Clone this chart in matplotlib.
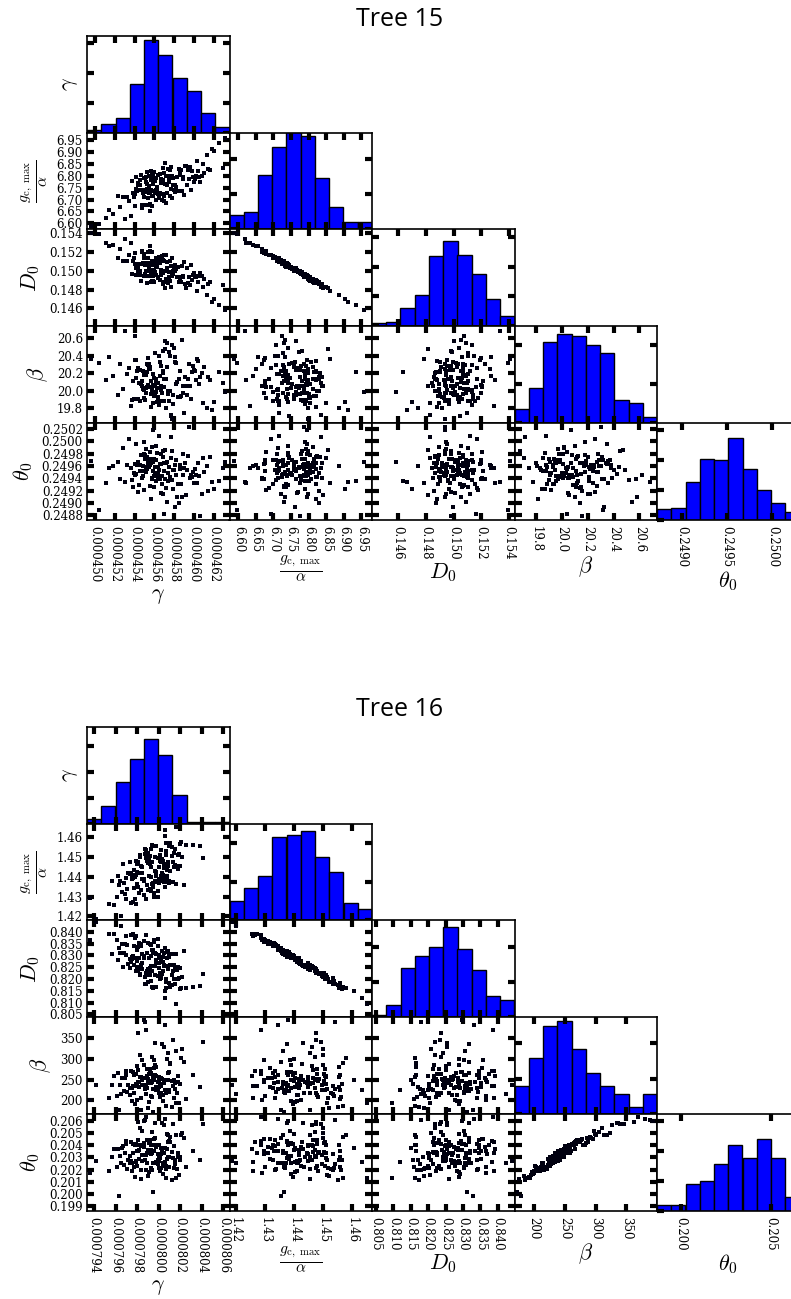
import numpy as np
import matplotlib
matplotlib.use("Agg")
import matplotlib.pyplot as plt
from matplotlib.ticker import FixedLocator, FormatStrFormatter

plt.rcParams['font.family'] = 'DejaVu Serif'
plt.rcParams['mathtext.fontset'] = 'cm'

LABELS = [r'$\gamma$', r'$\frac{g_{\mathrm{c,\ max}}}{\alpha}$', r'$D_0$', r'$\beta$', r'$\theta_0$']

# ---------------- Tree 15 samples (gamma in 1e-6, D0 in 1e-3, theta0 in 1e-4) ----------------
gamma15 = [
    456.1, 458.4, 455.3, 460.2, 454.6, 456.9, 452.8, 457.5, 455.8, 459.1,
    455.6, 461.3, 456.4, 454.2, 457.9, 455.1, 458.8, 456.7, 453.9, 460.0,
    455.9, 457.2, 451.4, 456.3, 459.6, 455.4, 457.7, 454.8, 462.5, 456.0,
    458.1, 455.2, 456.8, 453.2, 457.1, 460.5, 455.7, 454.4, 456.5, 459.4,
    457.4, 449.6, 455.0, 458.6, 456.2, 461.8, 455.5, 457.0, 454.1, 458.9,
    456.6, 453.7, 459.9, 455.9, 457.6, 452.3, 456.0, 460.9, 455.3, 457.3,
    454.9, 458.2, 456.4, 451.1, 457.8, 455.6, 459.2, 456.1, 463.1, 455.0,
    457.0, 454.5, 460.4, 455.8, 456.9, 453.6, 458.5, 455.4, 457.4, 461.0,
    455.7, 459.7, 454.3, 456.7, 458.0, 455.2, 452.5, 457.2, 460.6, 456.3,
    455.5, 458.7, 454.7, 456.5, 462.0, 455.9, 457.6, 453.4, 459.0, 456.2,
    456.8, 454.0, 458.3, 455.1, 460.1, 457.1, 455.6, 451.8, 456.4, 459.5,
    455.4, 457.9, 454.6, 461.6, 456.0, 458.1, 455.8, 453.0, 457.5, 460.8,
    456.6, 455.0, 459.3, 454.2, 457.3, 455.7, 462.9, 456.9, 454.8, 458.6,
    455.2, 460.3, 456.2, 453.8, 457.7, 455.5, 458.9, 456.5, 450.4, 457.0,
    456.1, 459.8, 455.3, 457.8, 454.4, 461.4, 456.7, 455.9, 458.2, 454.9]
gc15 = [
    6.778, 6.737, 6.744, 6.798, 6.783, 6.722, 6.712, 6.772, 6.673, 6.839,
    6.730, 6.887, 6.723, 6.796, 6.759, 6.741, 6.734, 6.788, 6.711, 6.774,
    6.765, 6.687, 6.655, 6.741, 6.838, 6.706, 6.835, 6.676, 6.935, 6.816,
    6.762, 6.773, 6.700, 6.709, 6.855, 6.793, 6.741, 6.769, 6.715, 6.824,
    6.830, 6.588, 6.679, 6.821, 6.740, 6.912, 6.758, 6.693, 6.724, 6.796,
    6.727, 6.777, 6.793, 6.795, 6.714, 6.713, 6.736, 6.850, 6.814, 6.729,
    6.738, 6.754, 6.803, 6.623, 6.797, 6.650, 6.841, 6.728, 6.958, 6.789,
    6.713, 6.741, 6.821, 6.713, 6.832, 6.632, 6.829, 6.676, 6.800, 6.811,
    6.781, 6.739, 6.737, 6.768, 6.740, 6.793, 6.667, 6.797, 6.775, 6.751,
    6.728, 6.822, 6.804, 6.705, 6.902, 6.715, 6.824, 6.692, 6.717, 6.790,
    6.780, 6.672, 6.796, 6.791, 6.786, 6.765, 6.680, 6.641, 6.803, 6.786,
    6.676, 6.789, 6.763, 6.822, 6.776, 6.732, 6.813, 6.618, 6.792, 6.798,
    6.807, 6.709, 6.763, 6.746, 6.759, 6.821, 6.834, 6.782, 6.666, 6.801,
    6.733, 6.860, 6.700, 6.729, 6.745, 6.798, 6.786, 6.715, 6.597, 6.813,
    6.728, 6.821, 6.764, 6.707, 6.759, 6.828, 6.778, 6.805, 6.754, 6.728]
d015 = [
    149.84, 150.45, 150.65, 149.30, 149.53, 151.18, 151.06, 149.92, 151.97, 148.59,
    150.71, 147.47, 150.96, 149.54, 150.01, 150.66, 150.52, 149.52, 151.38, 149.78,
    150.08, 151.66, 152.67, 150.41, 148.51, 151.34, 148.27, 152.15, 146.35, 148.85,
    149.95, 149.95, 151.52, 151.07, 148.18, 149.41, 150.66, 149.84, 151.34, 148.67,
    148.69, 154.06, 151.79, 148.99, 150.53, 146.67, 150.33, 151.63, 150.74, 149.39,
    150.87, 149.61, 149.51, 149.41, 151.06, 151.38, 150.62, 148.29, 148.74, 150.93,
    150.78, 150.17, 149.19, 152.98, 149.42, 152.63, 148.19, 151.05, 145.84, 149.45,
    151.08, 150.76, 148.84, 151.03, 148.64, 152.93, 148.76, 152.00, 149.05, 149.11,
    149.87, 150.61, 150.55, 150.11, 150.38, 149.46, 152.30, 149.17, 149.81, 150.44,
    150.80, 148.86, 148.96, 151.51, 146.99, 151.04, 148.92, 151.70, 150.94, 149.57,
    149.80, 151.94, 149.39, 149.65, 149.46, 150.03, 152.07, 152.73, 149.29, 149.36,
    152.00, 149.65, 149.97, 148.81, 149.98, 150.61, 148.96, 153.39, 149.38, 149.45,
    149.00, 151.32, 150.27, 150.30, 150.26, 148.79, 148.45, 149.80, 152.03, 149.33,
    150.84, 147.87, 151.32, 151.03, 150.47, 149.40, 149.46, 151.19, 153.91, 148.76,
    150.90, 148.99, 149.95, 151.32, 150.31, 148.58, 149.84, 148.94, 150.27, 150.70]
beta15 = [
    20.05, 19.93, 20.31, 20.12, 19.88, 20.22, 20.02, 20.44, 19.97, 20.16,
    20.27, 19.81, 20.09, 20.35, 19.95, 20.18, 20.58, 20.01, 19.91, 20.24,
    19.99, 20.14, 20.38, 19.87, 20.06, 20.29, 19.72, 20.11, 20.21, 19.94,
    20.33, 20.03, 19.89, 20.19, 20.47, 20.08, 19.96, 20.26, 19.84, 20.13,
    20.00, 20.36, 19.92, 20.23, 20.10, 19.78, 20.30, 20.04, 20.62, 19.98,
    20.17, 19.90, 20.28, 20.07, 20.39, 19.95, 20.15, 19.86, 20.21, 20.54,
    20.02, 20.32, 19.93, 20.12, 19.68, 20.25, 20.06, 20.43, 19.99, 20.18,
    19.88, 20.09, 20.34, 20.01, 20.20, 19.83, 20.14, 20.37, 19.96, 20.27,
    20.11, 19.91, 20.23, 20.05, 20.49, 19.97, 20.31, 19.80, 20.16, 20.03,
    20.29, 19.94, 20.08, 20.40, 19.87, 20.19, 20.00, 20.26, 19.75, 20.13,
    19.98, 20.35, 20.10, 19.90, 20.22, 20.57, 20.04, 20.17, 19.92, 20.30,
    20.07, 19.85, 20.24, 20.12, 19.96, 20.38, 20.02, 20.68, 19.89, 20.20,
    20.33, 20.01, 19.95, 20.15, 20.27, 19.82, 20.09, 20.45, 20.05, 19.93,
    20.18, 20.36, 19.99, 20.11, 19.71, 20.25, 20.06, 19.88, 20.32, 20.14,
    19.97, 20.21, 20.04, 20.52, 19.91, 20.16, 20.28, 19.86, 20.08, 20.23]
theta15 = [
    2495.8, 2493.1, 2497.4, 2494.6, 2496.2, 2491.5, 2498.9, 2495.9, 2493.9, 2496.5,
    2492.8, 2496.0, 2494.2, 2499.6, 2495.4, 2497.8, 2490.9, 2496.3, 2494.9, 2493.3,
    2496.6, 2492.4, 2495.6, 2498.1, 2494.0, 2496.9, 2500.7, 2495.1, 2493.6, 2497.1,
    2489.4, 2495.7, 2493.0, 2496.1, 2498.6, 2494.4, 2496.4, 2491.8, 2495.3, 2497.6,
    2494.8, 2496.8, 2492.1, 2495.5, 2499.2, 2493.4, 2496.0, 2488.2, 2494.5, 2497.9,
    2496.3, 2493.7, 2495.0, 2501.8, 2494.1, 2496.7, 2492.6, 2497.3, 2495.8, 2490.2,
    2494.3, 2497.0, 2495.9, 2493.2, 2498.4, 2496.2, 2491.2, 2494.7, 2496.6, 2499.9,
    2495.2, 2492.9, 2496.4, 2494.0, 2497.5, 2495.6, 2489.9, 2496.9, 2493.5, 2495.0,
    2497.2, 2494.6, 2496.1, 2491.6, 2495.4, 2498.8, 2493.8, 2496.5, 2487.8, 2494.9,
    2496.0, 2493.0, 2497.7, 2495.3, 2492.3, 2496.8, 2494.2, 2500.4, 2495.7, 2493.6,
    2494.4, 2496.3, 2491.0, 2497.1, 2495.5, 2493.9, 2498.2, 2496.0, 2494.8, 2502.3,
    2496.5, 2492.2, 2495.1, 2497.4, 2494.3, 2496.1, 2499.0, 2493.4, 2495.9, 2491.4,
    2493.8, 2497.9, 2495.3, 2494.7, 2496.7, 2490.6, 2495.6, 2498.5, 2494.1, 2496.2,
    2495.0, 2493.3, 2496.9, 2492.5, 2497.3, 2495.8, 2494.5, 2500.9, 2488.9, 2496.4,
    2497.0, 2494.2, 2495.5, 2493.7, 2496.6, 2492.0, 2498.0, 2495.2, 2494.6, 2496.0]

# histogram bar heights (10 bins over each axis range)
hist15_gamma = [2, 6, 10, 33, 62, 52, 37, 28, 13, 4]
hist15_gc = [8, 10, 31, 47, 60, 53, 29, 13, 4, 4]
hist15_d0 = [2, 3, 12, 21, 47, 57, 48, 35, 18, 7]
hist15_beta = [7, 18, 42, 46, 45, 40, 36, 12, 10, 3]
hist15_theta = [7, 8, 25, 41, 40, 55, 34, 20, 11, 5]

# ---------------- Tree 16 samples (gamma in 1e-6, gc in 1e-3, D0 in 1e-3, theta0 in 1e-3) ----------------
gamma16 = [
    799.2, 801.0, 797.6, 800.4, 798.3, 799.8, 802.1, 796.5, 800.9, 798.9,
    799.5, 797.0, 800.7, 798.0, 801.6, 799.0, 795.4, 800.2, 798.6, 801.2,
    797.9, 800.0, 799.3, 802.4, 798.4, 796.9, 800.6, 799.7, 794.2, 801.4,
    800.3, 798.1, 799.9, 797.3, 801.8, 799.4, 798.7, 800.8, 796.2, 799.1,
    798.8, 801.1, 799.6, 797.7, 800.5, 803.2, 798.2, 799.0, 801.5, 797.4,
    800.1, 796.7, 799.8, 798.5, 802.0, 799.3, 797.8, 800.6, 798.9, 801.3,
    799.6, 797.2, 800.4, 795.9, 801.0, 798.6, 799.9, 802.5, 798.0, 800.2,
    797.5, 800.9, 799.1, 798.3, 801.7, 796.4, 799.5, 800.0, 797.9, 801.1,
    799.7, 798.8, 800.5, 793.6, 799.2, 801.5, 798.1, 800.8, 797.1, 799.4,
    800.1, 798.4, 801.9, 797.6, 799.8, 796.1, 800.3, 799.0, 802.2, 798.7,
    799.3, 800.7, 797.8, 801.2, 798.2, 799.6, 795.7, 800.4, 798.9, 804.1,
    800.0, 797.0, 799.4, 801.4, 798.5, 800.6, 796.8, 799.1, 801.8, 797.5,
    798.6, 800.2, 799.7, 802.0, 797.3, 800.9, 798.4, 799.5, 796.3, 800.5,
    799.9, 797.7, 801.3, 798.0, 800.0, 799.2, 803.8, 798.8, 800.7, 796.6,
    798.1, 801.6, 799.8, 797.4, 800.3, 798.5, 799.3, 801.0, 797.9, 800.8]
gc16 = [
    1446.7, 1436.8, 1439.2, 1439.1, 1451.2, 1440.4, 1457.8, 1420.2, 1447.5, 1447.9,
    1434.6, 1439.6, 1456.9, 1436.4, 1436.4, 1447.2, 1426.1, 1453.5, 1439.0, 1450.3,
    1448.1, 1437.0, 1445.0, 1435.7, 1445.5, 1431.3, 1463.5, 1443.1, 1418.7, 1451.9,
    1441.8, 1446.6, 1432.7, 1441.4, 1451.0, 1436.3, 1454.3, 1438.2, 1440.3, 1440.4,
    1449.6, 1443.0, 1429.8, 1443.5, 1446.4, 1455.9, 1431.9, 1452.2, 1446.2, 1426.7,
    1448.2, 1446.7, 1437.4, 1438.8, 1456.6, 1433.0, 1439.8, 1460.6, 1435.9, 1447.6,
    1431.8, 1442.1, 1448.1, 1425.5, 1455.8, 1438.0, 1429.7, 1456.0, 1446.4, 1440.5,
    1439.0, 1437.5, 1448.4, 1450.2, 1445.7, 1437.9, 1436.6, 1445.0, 1426.1, 1457.0,
    1438.1, 1453.6, 1444.4, 1429.0, 1433.7, 1454.2, 1447.6, 1443.2, 1433.8, 1447.3,
    1451.2, 1433.5, 1451.3, 1427.2, 1455.4, 1430.0, 1448.8, 1433.2, 1450.1, 1451.3,
    1440.0, 1450.9, 1428.8, 1455.3, 1441.9, 1429.8, 1437.9, 1441.1, 1450.9, 1449.4,
    1445.0, 1428.6, 1456.3, 1444.9, 1444.8, 1434.6, 1437.0, 1450.4, 1444.0, 1441.0,
    1431.0, 1447.5, 1450.1, 1445.6, 1447.4, 1445.5, 1433.5, 1455.6, 1435.6, 1437.4,
    1449.7, 1434.5, 1437.6, 1442.4, 1439.0, 1450.7, 1455.6, 1428.6, 1452.9, 1432.4,
    1434.6, 1465.2, 1442.4, 1441.7, 1437.8, 1441.8, 1454.0, 1437.8, 1441.1, 1440.2]
d016 = [
    824.6, 830.4, 829.8, 829.2, 821.8, 828.0, 816.2, 842.3, 824.3, 823.2,
    832.4, 830.2, 816.3, 832.1, 830.6, 824.1, 838.9, 820.3, 828.9, 821.5,
    823.6, 830.3, 825.5, 831.7, 826.0, 834.7, 812.0, 825.5, 844.2, 820.2,
    827.1, 825.0, 834.1, 828.4, 819.9, 832.1, 818.1, 831.6, 828.0, 828.8,
    822.5, 825.9, 836.7, 826.0, 825.4, 816.6, 835.2, 818.8, 825.2, 838.8,
    822.4, 824.9, 830.7, 830.4, 815.8, 834.5, 828.8, 815.1, 831.2, 823.5,
    835.6, 826.5, 823.2, 839.2, 818.4, 829.7, 836.9, 816.0, 825.1, 828.6,
    829.2, 831.7, 822.6, 822.0, 823.8, 830.9, 831.2, 826.6, 838.4, 816.6,
    831.0, 818.1, 825.9, 836.7, 834.7, 817.8, 823.7, 825.4, 834.3, 823.6,
    820.2, 834.7, 820.5, 838.9, 816.6, 836.7, 822.2, 835.3, 820.7, 820.8,
    829.6, 820.0, 837.4, 817.3, 828.7, 835.8, 830.8, 827.0, 821.7, 822.1,
    824.8, 838.3, 816.8, 825.9, 824.4, 833.3, 830.9, 822.6, 825.2, 828.3,
    836.2, 822.6, 821.7, 824.5, 824.6, 824.2, 834.1, 816.3, 833.0, 830.9,
    821.3, 833.9, 830.5, 827.7, 828.7, 821.5, 817.2, 838.7, 818.7, 834.7,
    833.5, 809.5, 827.4, 827.3, 831.7, 826.9, 819.0, 829.4, 829.0, 828.8]
beta16 = [
    243, 221, 268, 198, 256, 232, 301, 215, 249, 276,
    228, 262, 187, 239, 318, 252, 207, 235, 284, 246,
    264, 219, 241, 293, 176, 254, 226, 337, 238, 205,
    251, 273, 230, 212, 258, 245, 389, 223, 267, 196,
    236, 288, 248, 217, 327, 260, 233, 183, 242, 271,
    209, 255, 224, 298, 240, 265, 191, 250, 231, 346,
    278, 237, 213, 259, 226, 394, 244, 203, 282, 253,
    229, 266, 247, 310, 218, 238, 172, 257, 234, 290,
    261, 216, 243, 200, 270, 227, 362, 248, 221, 305,
    239, 256, 195, 234, 279, 211, 252, 241, 323, 228,
    247, 225, 263, 185, 244, 296, 236, 214, 258, 340,
    232, 271, 208, 250, 237, 381, 222, 264, 245, 199,
    254, 219, 286, 240, 230, 313, 206, 257, 178, 242,
    226, 262, 235, 202, 249, 275, 233, 369, 217, 255,
    244, 193, 259, 231, 335, 248, 210, 268, 239, 299]
theta16 = [
    203.46, 202.19, 204.14, 201.64, 204.03, 202.62, 204.82, 202.58, 203.07, 204.40,
    202.53, 204.11, 201.32, 203.52, 204.81, 203.61, 201.86, 203.28, 204.15, 203.46,
    204.12, 202.12, 203.29, 204.56, 201.22, 203.37, 202.66, 205.81, 202.68, 202.10,
    203.33, 204.43, 202.75, 202.57, 203.39, 203.38, 206.04, 202.86, 203.71, 201.78,
    203.21, 204.25, 203.53, 202.25, 205.69, 203.55, 202.91, 201.49, 202.82, 204.28,
    201.87, 203.90, 202.54, 205.16, 202.80, 204.00, 201.38, 203.80, 202.54, 205.74,
    204.50, 202.75, 202.31, 203.67, 203.01, 205.99, 203.29, 202.19, 204.00, 203.74,
    202.57, 204.23, 203.35, 205.40, 202.03, 203.13, 200.15, 204.01, 202.64, 204.70,
    204.03, 202.01, 203.36, 201.70, 204.45, 202.45, 205.88, 203.73, 202.09, 205.05,
    202.92, 203.93, 201.60, 203.34, 203.98, 202.19, 203.41, 203.49, 204.96, 202.83,
    203.60, 202.33, 203.99, 201.18, 203.64, 204.47, 203.01, 202.54, 203.34, 205.70,
    202.67, 204.38, 201.99, 203.90, 202.70, 206.16, 202.37, 204.22, 203.03, 201.87,
    203.82, 202.12, 204.60, 203.05, 203.15, 204.81, 201.98, 204.01, 199.82, 203.37,
    202.46, 204.11, 202.93, 202.26, 203.12, 204.28, 202.76, 206.29, 202.05, 203.75,
    203.49, 201.29, 203.87, 202.74, 205.83, 203.18, 202.10, 204.34, 202.72, 204.93]

hist16_gamma = [4, 14, 32, 50, 66, 53, 22, 1, 1, 1]
hist16_gc = [10, 17, 23, 43, 44, 46, 33, 25, 9, 6]
hist16_d0 = [1, 7, 28, 35, 40, 51, 39, 27, 12, 10]
hist16_beta = [16, 32, 50, 53, 37, 23, 16, 11, 4, 11]
hist16_theta = [4, 4, 18, 20, 31, 44, 35, 48, 35, 9]

# tick values
ticks15_x = [[0.000450, 0.000452, 0.000454, 0.000456, 0.000458, 0.000460, 0.000462],
             [6.60, 6.65, 6.70, 6.75, 6.80, 6.85, 6.90, 6.95],
             [0.146, 0.148, 0.150, 0.152, 0.154],
             [19.8, 20.0, 20.2, 20.4, 20.6],
             [0.2490, 0.2495, 0.2500]]
ticks15_y = [None,
             [6.60, 6.65, 6.70, 6.75, 6.80, 6.85, 6.90, 6.95],
             [0.146, 0.148, 0.150, 0.152, 0.154],
             [19.8, 20.0, 20.2, 20.4, 20.6],
             [0.2488, 0.2490, 0.2492, 0.2494, 0.2496, 0.2498, 0.2500, 0.2502]]
ticks16_x = [[0.000794, 0.000796, 0.000798, 0.000800, 0.000802, 0.000804, 0.000806],
             [1.42, 1.43, 1.44, 1.45, 1.46],
             [0.805, 0.810, 0.815, 0.820, 0.825, 0.830, 0.835, 0.840],
             [200, 250, 300, 350],
             [0.200, 0.205]]
ticks16_y = [None,
             [1.42, 1.43, 1.44, 1.45, 1.46],
             [0.805, 0.810, 0.815, 0.820, 0.825, 0.830, 0.835, 0.840],
             [200, 250, 300, 350],
             [0.199, 0.200, 0.201, 0.202, 0.203, 0.204, 0.205, 0.206]]

fmt15_x = ['%.6f', '%.2f', '%.3f', '%.1f', '%.4f']
fmt15_y = [None, '%.2f', '%.3f', '%.1f', '%.4f']
fmt16_x = ['%.6f', '%.2f', '%.3f', '%.0f', '%.3f']
fmt16_y = [None, '%.2f', '%.3f', '%.0f', '%.3f']

# axis ranges (sample min / max)
lims15 = [(449.2e-6, 463.6e-6), (6.575, 6.980), (0.14412, 0.15440), (19.637, 20.735), (0.24873, 0.25030)]
lims16 = [(793.35e-6, 806.58e-6), (1.4179, 1.4669), (0.80390, 0.84480), (168.0, 399.8), (0.19866, 0.20657)]
htop15 = [65, 55, 65, 50, 65]
htop16 = [75, 50, 55, 55, 65]

W, H = 791, 1299
COL_X = [87, 229.5, 372, 514.5, 657]
CELL_W, CELL_H = 142.5, 96.7

fig = plt.figure(figsize=(W / 100, H / 100), dpi=100)


def corner(top, title, data, hists, htop, lims, xt, yt, xf, yf):
    fig.text(400 / W, 1 - (top - 17) / H, title, ha='center', va='center',
             fontsize=18, family='Open Sans')
    for i in range(5):
        for j in range(i + 1):
            ax = fig.add_axes([COL_X[j] / W, 1 - (top + (i + 1) * CELL_H) / H,
                               CELL_W / W, CELL_H / H])
            if i == j:
                edges = np.linspace(lims[j][0], lims[j][1], 11)
                ax.hist(edges[:-1], bins=edges, weights=hists[j], color='#0000ff',
                        edgecolor='k', linewidth=1)
                ax.set_ylim(0, htop[j])
                ax.tick_params(labelleft=False)
            else:
                ax.plot(data[j], data[i], 's', color='#000010', ms=2.4, mew=0)
                ax.set_ylim(lims[i])
                ax.yaxis.set_major_locator(FixedLocator(yt[i]))
                ax.yaxis.set_major_formatter(FormatStrFormatter(yf[i]))
            ax.set_xlim(lims[j])
            ax.xaxis.set_major_locator(FixedLocator(xt[j]))
            ax.xaxis.set_major_formatter(FormatStrFormatter(xf[j]))
            ax.tick_params(direction='in', length=5, width=3, top=True, right=True,
                           labelsize=8.5)
            ax.tick_params(axis='x', labelrotation=-90, pad=5)
            ax.tick_params(axis='y', pad=3)
            for s in ax.spines.values():
                s.set_linewidth(1.2)
            if i < 4:
                ax.tick_params(labelbottom=False)
            else:
                ax.set_xlabel(LABELS[j], fontsize=16, labelpad=1)
            if j == 0:
                ax.set_ylabel(LABELS[i], fontsize=16, labelpad=5)
            else:
                ax.tick_params(labelleft=False)


data15 = [np.array(gamma15) * 1e-6, np.array(gc15), np.array(d015) * 1e-3,
          np.array(beta15), np.array(theta15) * 1e-4]
data16 = [np.array(gamma16) * 1e-6, np.array(gc16) * 1e-3, np.array(d016) * 1e-3,
          np.array(beta16), np.array(theta16) * 1e-3]

corner(36, 'Tree 15', data15,
       [hist15_gamma, hist15_gc, hist15_d0, hist15_beta, hist15_theta],
       htop15, lims15, ticks15_x, ticks15_y, fmt15_x, fmt15_y)
corner(727, 'Tree 16', data16,
       [hist16_gamma, hist16_gc, hist16_d0, hist16_beta, hist16_theta],
       htop16, lims16, ticks16_x, ticks16_y, fmt16_x, fmt16_y)

fig.savefig('out.png', dpi=100)
